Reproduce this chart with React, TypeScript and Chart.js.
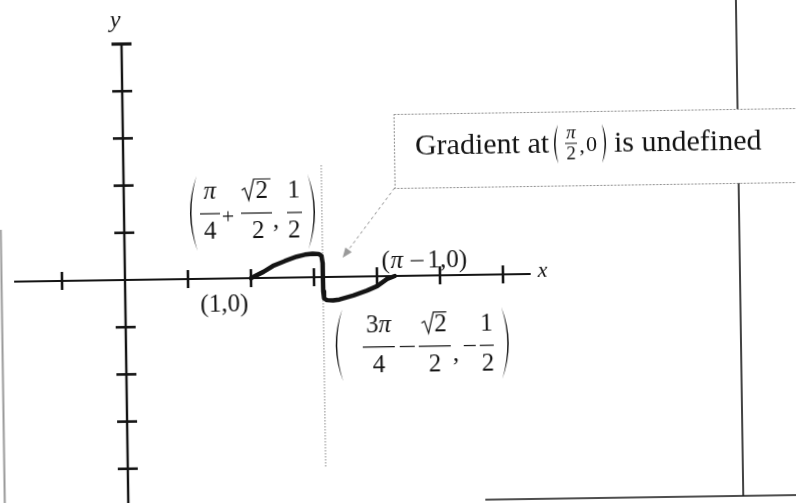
import React, { useEffect, useRef } from "react";
import { Chart, registerables } from "chart.js";

Chart.register(...registerables);

// Curve traced from (1, 0) to (π − 1, 0); it drops straight down at x = π/2
const curveX = [1.0, 1.1, 1.175, 1.27, 1.365, 1.43, 1.492, 1.54, 1.562, 1.57, 1.5708, 1.572, 1.578, 1.6, 1.649, 1.7, 1.81, 1.92, 2.0, 2.08, 2.1416];
const curveY = [0, 0.13, 0.25, 0.35, 0.44, 0.48, 0.5, 0.49, 0.45, 0.3, 0, -0.3, -0.45, -0.49, -0.5, -0.48, -0.4, -0.3, -0.21, -0.06, 0];

// Axis extent and tick marks
const xTicks = [-0.5, 0.5, 1, 1.5, 2, 2.5, 3];
const yTicks = [4, 3, 2, 1, -1, -2, -3, -4];
const yAxisTop = 5;
const xAxisStart = -0.88;
const xAxisEnd = 3.22;

// Annotated points
const startPoint = { x: 1, y: 0 }; // (1, 0)
const endPoint = { x: 2.1416, y: 0 }; // (π − 1, 0)
const peakPoint = { x: 1.492, y: 0.5 }; // (π/4 + √2/2, 1/2)
const troughPoint = { x: 1.649, y: -0.5 }; // (3π/4 − √2/2, −1/2)
const cuspX = 1.5708; // π/2

// Canvas layout: the canvas is a little larger than the page and tilted slightly
const W = 840;
const H = 560;
const PAD = 20;
const ORIGIN_X = 145;
const ORIGIN_Y = 300;
const UNIT_X = 126;
const UNIT_Y = 47.2;
const TILT_DEG = -0.85;

const INK = "#141414";
const GREY = "#8a8a8a";
const SERIF = '"Liberation Serif", "Times New Roman", Times, serif';
const font = (size: number, italic = false) => `${italic ? "italic " : ""}${size}px ${SERIF}`;

type Ctx = CanvasRenderingContext2D;

function put(ctx: Ctx, s: string, x: number, y: number, size: number, italic = false, align: CanvasTextAlign = "center") {
  ctx.font = font(size, italic);
  ctx.textAlign = align;
  ctx.textBaseline = "alphabetic";
  ctx.fillText(s, x, y);
}

function seg(ctx: Ctx, x1: number, y1: number, x2: number, y2: number, w: number) {
  ctx.lineWidth = w;
  ctx.beginPath();
  ctx.moveTo(x1, y1);
  ctx.lineTo(x2, y2);
  ctx.stroke();
}

// Tall bracket: dir = -1 for "(", +1 for ")"
function paren(ctx: Ctx, x: number, top: number, bottom: number, dir: number, bulge = 7) {
  const mid = (top + bottom) / 2;
  ctx.beginPath();
  ctx.moveTo(x, top);
  ctx.quadraticCurveTo(x + 2 * bulge * dir, mid, x, bottom);
  ctx.quadraticCurveTo(x + 2 * bulge * dir - 3 * dir, mid, x, top);
  ctx.fill();
}

// Radical sign with its vinculum
function radical(ctx: Ctx, x: number, top: number, baseline: number, width: number) {
  ctx.lineJoin = "miter";
  ctx.lineWidth = 1.2;
  ctx.beginPath();
  ctx.moveTo(x, baseline - 8);
  ctx.lineTo(x + 3, baseline - 10);
  ctx.lineTo(x + 7, baseline + 2);
  ctx.lineTo(x + 12, top);
  ctx.lineTo(x + 12 + width, top);
  ctx.stroke();
}

const figurePlugin = {
  id: "figure",
  beforeDatasetsDraw(chart: any) {
    const ctx: Ctx = chart.ctx;
    const xs = chart.scales.x;
    const ys = chart.scales.y;
    const ox = xs.getPixelForValue(0);
    const oy = ys.getPixelForValue(0);
    ctx.save();
    ctx.strokeStyle = INK;
    ctx.fillStyle = INK;
    ctx.lineCap = "butt";

    // page frame lines
    seg(ctx, PAD + 740, 0, PAD + 740, PAD + 505, 1.6);
    seg(ctx, PAD + 482, PAD + 505, W, PAD + 505, 1.6);
    ctx.strokeStyle = "#9a9a9a";
    seg(ctx, PAD + 1.5, PAD + 228, PAD + 1.5, H, 2);

    // dotted guide at x = π/2
    const cx = xs.getPixelForValue(cuspX);
    ctx.strokeStyle = GREY;
    ctx.setLineDash([1.5, 1.5]);
    seg(ctx, cx, oy - 112, cx, oy + 190, 1);
    ctx.setLineDash([]);

    // axes
    ctx.strokeStyle = INK;
    seg(ctx, xs.getPixelForValue(xAxisStart), oy, xs.getPixelForValue(xAxisEnd), oy, 2);
    const topY = ys.getPixelForValue(yAxisTop);
    seg(ctx, ox, topY, ox, H, 2.4);
    for (const t of xTicks) {
      const px = xs.getPixelForValue(t);
      seg(ctx, px, oy - 9, px, oy + 9, 2.6);
    }
    for (const t of yTicks) {
      const py = ys.getPixelForValue(t);
      seg(ctx, ox - 10, py, ox + 10, py, 2.6);
    }
    seg(ctx, ox - 10, topY, ox + 10, topY, 3.2);

    // axis names
    put(ctx, "y", ox - 6, topY - 17, 24, true);
    put(ctx, "x", xs.getPixelForValue(xAxisEnd) + 7, oy + 3, 22, true, "left");
    ctx.restore();
  },
  afterDatasetsDraw(chart: any) {
    const ctx: Ctx = chart.ctx;
    const xs = chart.scales.x;
    const ys = chart.scales.y;
    const px = (p: { x: number; y: number }) => ({ x: xs.getPixelForValue(p.x), y: ys.getPixelForValue(p.y) });
    ctx.save();
    ctx.fillStyle = INK;
    ctx.strokeStyle = INK;

    // (1,0)
    const s = px(startPoint);
    put(ctx, "(1,0)", s.x - 27, s.y + 33, 25);

    // (π−1,0)
    const e = px(endPoint);
    {
      const base = e.y - 8;
      put(ctx, "(", e.x - 13, base, 25, false, "left");
      put(ctx, "π", e.x - 4, base, 25, true, "left");
      seg(ctx, e.x + 16, base - 7, e.x + 29, base - 7, 1.2);
      put(ctx, "1,0)", e.x + 33, base, 25, false, "left");
    }

    // (π/4 + √2/2, 1/2)
    const pk = px(peakPoint);
    {
      const lx = pk.x - 115;
      const by = pk.y - 41.4;
      paren(ctx, lx, by - 38, by + 37, -1);
      put(ctx, "π", lx + 13, by - 15, 25, true);
      seg(ctx, lx + 3, by, lx + 23, by, 1.2);
      put(ctx, "4", lx + 13, by + 25, 25);
      put(ctx, "+", lx + 31, by + 10, 22);
      radical(ctx, lx + 45, by - 34, by - 15, 17);
      put(ctx, "2", lx + 65, by - 15, 25);
      seg(ctx, lx + 44, by, lx + 75, by, 1.2);
      put(ctx, "2", lx + 61, by + 25, 25);
      put(ctx, ",", lx + 79, by + 15, 25);
      put(ctx, "1", lx + 97, by - 15, 25);
      seg(ctx, lx + 90, by, lx + 105, by, 1.2);
      put(ctx, "2", lx + 97, by + 25, 25);
      paren(ctx, lx + 111, by - 38, by + 37, 1);
    }

    // (3π/4 − √2/2, −1/2)
    const tr = px(troughPoint);
    {
      const lx = tr.x + 9;
      const by = tr.y + 47;
      paren(ctx, lx, by - 38, by + 34, -1);
      put(ctx, "3", lx + 36, by - 15, 25, false, "right");
      put(ctx, "π", lx + 36, by - 15, 25, true, "left");
      seg(ctx, lx + 20, by, lx + 52, by, 1.2);
      put(ctx, "4", lx + 36, by + 25, 25);
      seg(ctx, lx + 57, by, lx + 72, by, 1.2);
      radical(ctx, lx + 79, by - 34, by - 15, 13);
      put(ctx, "2", lx + 98, by - 15, 25);
      seg(ctx, lx + 76, by, lx + 108, by, 1.2);
      put(ctx, "2", lx + 92, by + 25, 25);
      put(ctx, ",", lx + 113, by + 15, 25);
      seg(ctx, lx + 121, by, lx + 133, by, 1.2);
      put(ctx, "1", lx + 144, by - 15, 25);
      seg(ctx, lx + 137, by, lx + 151, by, 1.2);
      put(ctx, "2", lx + 145, by + 25, 25);
      paren(ctx, lx + 159, by - 38, by + 34, 1);
    }

    // callout for the point where the gradient is undefined
    const cx = xs.getPixelForValue(cuspX);
    const cy = ys.getPixelForValue(0);
    const boxL = cx + 73;
    const boxT = cy - 162;
    const boxB = cy - 88;
    ctx.fillStyle = "#ffffff";
    ctx.fillRect(boxL, boxT, W - boxL + 10, boxB - boxT);
    ctx.strokeStyle = GREY;
    ctx.setLineDash([2, 1.5]);
    ctx.lineWidth = 1;
    ctx.strokeRect(boxL + 0.5, boxT + 0.5, W - boxL + 10, boxB - boxT);
    // pointer
    const tipX = cx + 20;
    const tipY = cy - 19;
    ctx.setLineDash([3, 3]);
    seg(ctx, boxL, boxB, tipX + 3, tipY - 4, 1);
    ctx.setLineDash([]);
    {
      const ang = Math.atan2(tipY - boxB, tipX - boxL);
      ctx.fillStyle = "#9a9a9a";
      ctx.beginPath();
      ctx.moveTo(tipX, tipY);
      ctx.lineTo(tipX - 10 * Math.cos(ang) + 4 * Math.sin(ang), tipY - 10 * Math.sin(ang) - 4 * Math.cos(ang));
      ctx.lineTo(tipX - 10 * Math.cos(ang) - 4 * Math.sin(ang), tipY - 10 * Math.sin(ang) + 4 * Math.cos(ang));
      ctx.closePath();
      ctx.fill();
    }
    // callout text
    ctx.fillStyle = INK;
    ctx.strokeStyle = INK;
    const base = cy - 121;
    let x = cx + 94;
    put(ctx, "Gradient at", x, base, 30, false, "left");
    ctx.font = font(30);
    x += ctx.measureText("Gradient at").width + 9;
    paren(ctx, x, base - 28, base + 11, -1, 4);
    put(ctx, "π", x + 13, base - 14, 19, true);
    seg(ctx, x + 7, base - 9, x + 19, base - 9, 1);
    put(ctx, "2", x + 13, base + 7, 19);
    put(ctx, ",", x + 24, base, 22);
    put(ctx, "0", x + 28, base - 1, 22, false, "left");
    paren(ctx, x + 44, base - 28, base + 11, 1, 4);
    put(ctx, "is undefined", x + 56, base, 30, false, "left");

    ctx.restore();
  },
};

export default function App() {
  const ref = useRef<HTMLCanvasElement | null>(null);

  useEffect(() => {
    const canvas = ref.current;
    if (!canvas) return;
    const chart = new Chart(canvas, {
      type: "line",
      data: {
        datasets: [
          {
            data: curveX.map((x, i) => ({ x, y: curveY[i] })),
            borderColor: INK,
            borderWidth: 4.5,
            borderJoinStyle: "round",
            borderCapStyle: "round",
            pointRadius: 0,
            tension: 0,
            fill: false,
          },
        ],
      },
      options: {
        animation: false,
        responsive: false,
        maintainAspectRatio: false,
        devicePixelRatio: 1,
        events: [],
        layout: { padding: 0 },
        plugins: { legend: { display: false }, tooltip: { enabled: false } },
        scales: {
          x: { type: "linear", display: false, min: -ORIGIN_X / UNIT_X, max: (W - ORIGIN_X) / UNIT_X },
          y: { type: "linear", display: false, min: -(H - ORIGIN_Y) / UNIT_Y, max: ORIGIN_Y / UNIT_Y },
        },
      },
      plugins: [figurePlugin],
    } as any);
    return () => chart.destroy();
  }, []);

  return (
    <div style={{ position: "fixed", left: 0, top: 0, width: 796, height: 503, overflow: "hidden", background: "#fff" }}>
      <canvas
        ref={ref}
        width={W}
        height={H}
        style={{
          position: "absolute",
          left: -PAD,
          top: -PAD,
          width: W,
          height: H,
          display: "block",
          transform: `rotate(${TILT_DEG}deg)`,
          transformOrigin: `${ORIGIN_X}px ${ORIGIN_Y}px`,
        }}
      />
    </div>
  );
}
